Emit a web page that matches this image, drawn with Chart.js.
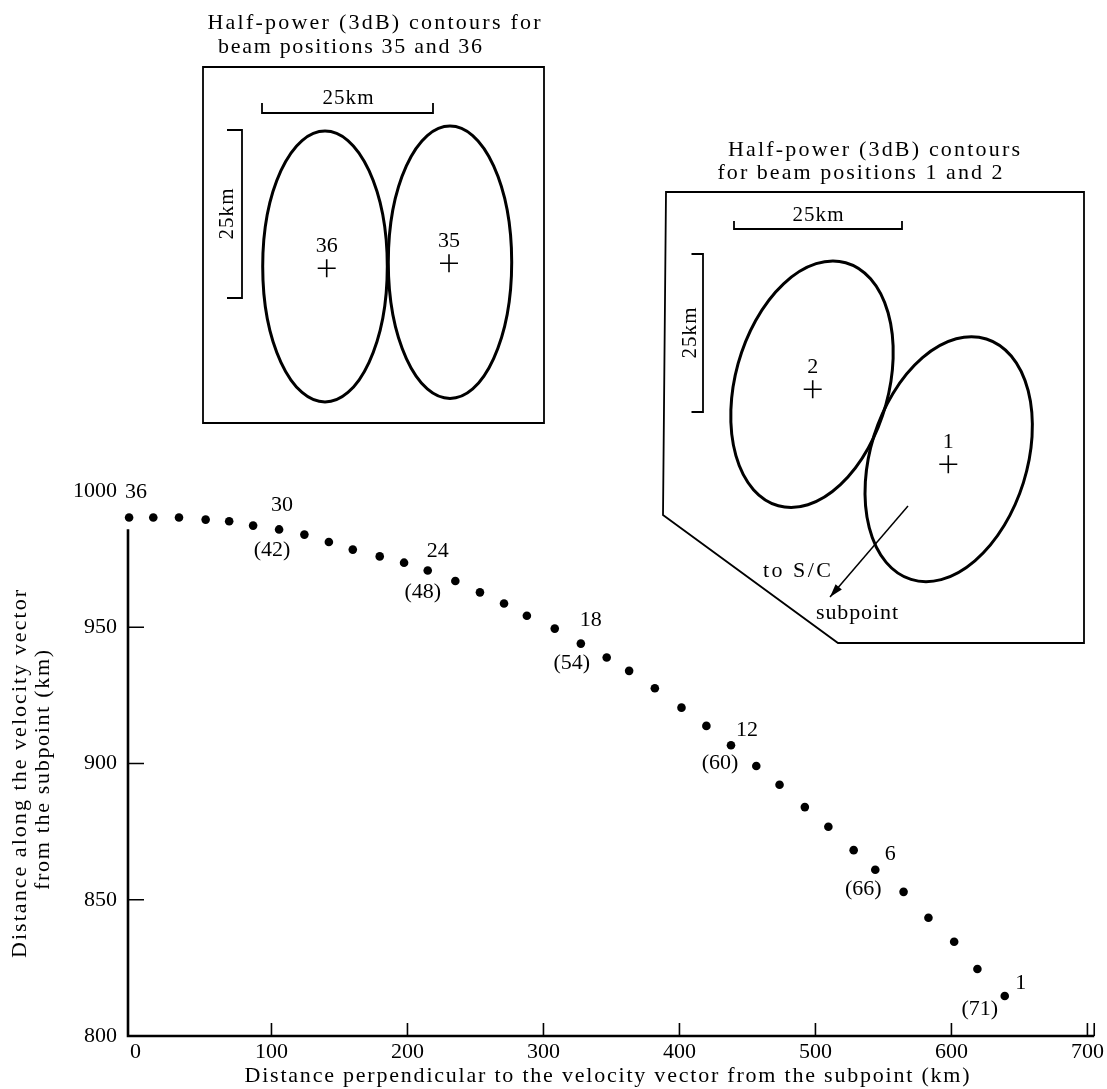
<!DOCTYPE html>
<html>
<head>
<meta charset="utf-8">
<title>Beam positions</title>
<script src="https://cdn.jsdelivr.net/npm/chart.js@4/dist/chart.umd.min.js"></script>
<style>
  html, body { margin: 0; padding: 0; background: #fff; }
  #wrap { position: relative; width: 1107px; height: 1089px; }
</style>
</head>
<body>
<div id="wrap"><canvas id="grafico"></canvas></div>
<script>
// posiciones de haz, de 36 (izquierda) a 1 (derecha)
const beamNumbers = [36, 35, 34, 33, 32, 31, 30, 29, 28, 27, 26, 25, 24, 23, 22, 21, 20, 19,
                     18, 17, 16, 15, 14, 13, 12, 11, 10, 9, 8, 7, 6, 5, 4, 3, 2, 1]
// distancia perpendicular al vector velocidad (km)
const distPerp = [-4.7, 13.1, 32.0, 51.6, 68.9, 86.5, 105.6, 124.2, 142.2, 159.8, 179.6, 197.5,
                  214.9, 235.2, 253.3, 271.0, 287.8, 308.3, 327.5, 346.5, 363.0, 381.9, 401.5, 419.8,
                  437.9, 456.5, 473.6, 492.2, 509.5, 528.1, 544.0, 564.8, 583.1, 602.0, 619.1, 639.2]
// distancia a lo largo del vector velocidad (km)
const distAlong = [990.3, 990.3, 990.3, 989.5, 988.9, 987.3, 985.9, 984.0, 981.3, 978.5, 976.0, 973.7,
                   970.8, 967.0, 962.8, 958.7, 954.2, 949.5, 944.0, 938.9, 934.0, 927.6, 920.5, 913.8,
                   906.7, 899.1, 892.2, 884.0, 876.8, 868.2, 861.0, 852.9, 843.4, 834.6, 824.6, 814.7]
// haces rotulados y su numero emparejado entre parentesis
const labeledBeams = [36, 30, 24, 18, 12, 6, 1]
const pairedBeams = [null, 42, 48, 54, 60, 66, 71]

const xTicks = [0, 100, 200, 300, 400, 500, 600, 700]
const yTicks = [800, 850, 900, 950, 1000]
const xAxisEnd = 705
const yAxisLineTop = 986

const xTitle = 'Distance perpendicular to the velocity vector from the subpoint (km)'
const yTitle = ['Distance along the velocity vector', 'from the subpoint (km)']

const fuente = "'Liberation Serif', 'DejaVu Serif', serif"
Chart.defaults.font.family = fuente
Chart.defaults.color = '#000'

// desplazamientos de los rotulos respecto al punto (px)
const offNum = { 36: [7, -25], 30: [3, -24], 24: [10, -19], 18: [10, -23], 12: [16, -15], 6: [15, -16], 1: [16, -13] }
const offPar = { 30: [-7, 21], 24: [-5, 22], 18: [-9, 20], 12: [-11, 18], 6: [-12, 19], 1: [-25, 13] }

// recuadros con los contornos de media potencia
const recuadros = [
    {
        titles: [
            { text: 'Half-power (3dB) contours for', cx: 374, cy: 23, w: 333 },
            { text: 'beam positions 35 and 36', cx: 350, cy: 47, w: 264 }
        ],
        box: [[203, 67], [544, 67], [544, 423], [203, 423]],
        hBar: { x1: 262, x2: 433, y: 113, tick: 10, lx: 348, ly: 98 },
        vBar: { x: 242, y1: 130, y2: 298, tick: 15, lx: 227, ly: 214 },
        ellipses: [
            { cx: 325, cy: 266.5, rx: 62.3, ry: 135.5, rot: 0 },
            { cx: 450, cy: 262.2, rx: 61.7, ry: 136.2, rot: 0 }
        ],
        crosses: [
            { x: 326.7, y: 268.3, label: '36', ly: 246 },
            { x: 449, y: 263.3, label: '35', ly: 241.5 }
        ]
    },
    {
        titles: [
            { text: 'Half-power (3dB) contours', cx: 874, cy: 150, w: 292 },
            { text: 'for beam positions 1 and 2', cx: 860, cy: 173, w: 285 }
        ],
        box: [[666, 192], [1084, 192], [1084, 643], [838, 643], [663, 515]],
        hBar: { x1: 734, x2: 902, y: 229, tick: 8, lx: 818, ly: 215 },
        vBar: { x: 703, y1: 254, y2: 412, tick: 11.5, lx: 690, ly: 333 },
        ellipses: [
            { cx: 812, cy: 384.2, rx: 76.7, ry: 126.1, rot: 15.5 },
            { cx: 948.7, cy: 459.2, rx: 78.3, ry: 126, rot: 17.4 }
        ],
        crosses: [
            { x: 812.7, y: 389.3, label: '2', ly: 367 },
            { x: 948.3, y: 464.3, label: '1', ly: 442.5 }
        ],
        arrow: { x1: 908, y1: 506, x2: 830, y2: 597 },
        notes: [
            { text: 'to S/C', cx: 797, cy: 571, w: 68 },
            { text: 'subpoint', cx: 857, cy: 613, w: 82 }
        ]
    }
]

function textoEspaciado(ctx, text, cx, cy, width, angle) {
    ctx.save()
    ctx.translate(cx, cy)
    if (angle) ctx.rotate(angle)
    ctx.letterSpacing = '0px'
    const w0 = ctx.measureText(text).width
    const sp = (width - w0) / (text.length - 1)
    ctx.letterSpacing = sp + 'px'
    ctx.textAlign = 'left'
    ctx.textBaseline = 'middle'
    ctx.fillText(text, -width / 2, 0)
    ctx.restore()
}

function dibujarRecuadro(ctx, r) {
    ctx.save()
    ctx.strokeStyle = '#000'
    ctx.fillStyle = '#000'
    ctx.font = '22px ' + fuente
    r.titles.forEach(t => textoEspaciado(ctx, t.text, t.cx, t.cy, t.w))

    ctx.lineWidth = 1.8
    ctx.beginPath()
    r.box.forEach((p, i) => i ? ctx.lineTo(p[0], p[1]) : ctx.moveTo(p[0], p[1]))
    ctx.closePath()
    ctx.stroke()

    // barras de escala
    const h = r.hBar, v = r.vBar
    ctx.lineWidth = 1.8
    ctx.beginPath()
    ctx.moveTo(h.x1, h.y - h.tick); ctx.lineTo(h.x1, h.y); ctx.lineTo(h.x2, h.y); ctx.lineTo(h.x2, h.y - h.tick)
    ctx.moveTo(v.x - v.tick, v.y1); ctx.lineTo(v.x, v.y1); ctx.lineTo(v.x, v.y2); ctx.lineTo(v.x - v.tick, v.y2)
    ctx.stroke()
    ctx.font = '21px ' + fuente
    textoEspaciado(ctx, '25km', h.lx, h.ly, 51)
    textoEspaciado(ctx, '25km', v.lx, v.ly, 51, -Math.PI / 2)

    ctx.lineWidth = 3
    r.ellipses.forEach(e => {
        ctx.beginPath()
        ctx.ellipse(e.cx, e.cy, e.rx, e.ry, e.rot * Math.PI / 180, 0, Math.PI * 2)
        ctx.stroke()
    })

    ctx.lineWidth = 1.6
    ctx.font = '22px ' + fuente
    ctx.textAlign = 'center'
    ctx.textBaseline = 'middle'
    r.crosses.forEach(c => {
        ctx.beginPath()
        ctx.moveTo(c.x - 9, c.y); ctx.lineTo(c.x + 9, c.y)
        ctx.moveTo(c.x, c.y - 9); ctx.lineTo(c.x, c.y + 9)
        ctx.stroke()
        ctx.fillText(c.label, c.x, c.ly)
    })

    if (r.arrow) {
        const a = r.arrow
        const ang = Math.atan2(a.y2 - a.y1, a.x2 - a.x1)
        ctx.lineWidth = 1.5
        ctx.beginPath()
        ctx.moveTo(a.x1, a.y1); ctx.lineTo(a.x2, a.y2)
        ctx.stroke()
        ctx.beginPath()
        ctx.moveTo(a.x2, a.y2)
        ctx.lineTo(a.x2 - 14 * Math.cos(ang - 0.3), a.y2 - 14 * Math.sin(ang - 0.3))
        ctx.lineTo(a.x2 - 14 * Math.cos(ang + 0.3), a.y2 - 14 * Math.sin(ang + 0.3))
        ctx.closePath()
        ctx.fill()
    }
    ctx.font = '22px ' + fuente
    if (r.notes) r.notes.forEach(t => textoEspaciado(ctx, t.text, t.cx, t.cy, t.w))
    ctx.restore()
}

const dibujo = {
    id: 'dibujo',
    afterDraw(chart) {
        const ctx = chart.ctx
        const xs = chart.scales.x, ys = chart.scales.y
        const x0 = xs.getPixelForValue(xs.min)
        const y0 = ys.getPixelForValue(ys.min)
        ctx.save()
        ctx.strokeStyle = '#000'
        ctx.fillStyle = '#000'

        // ejes
        ctx.lineWidth = 2.6
        ctx.beginPath()
        ctx.moveTo(x0, ys.getPixelForValue(yAxisLineTop))
        ctx.lineTo(x0, y0)
        ctx.lineTo(xs.getPixelForValue(xAxisEnd), y0)
        ctx.stroke()
        ctx.lineWidth = 1.6
        ctx.beginPath()
        xTicks.filter(v => v > 0).concat([xAxisEnd]).forEach(v => {
            const px = xs.getPixelForValue(v)
            ctx.moveTo(px, y0); ctx.lineTo(px, y0 - 13)
        })
        yTicks.filter(v => v > 800 && v < yAxisLineTop).forEach(v => {
            const py = ys.getPixelForValue(v)
            ctx.moveTo(x0, py); ctx.lineTo(x0 + 16, py)
        })
        ctx.stroke()

        // rotulos de los haces
        ctx.font = '22px ' + fuente
        ctx.textAlign = 'center'
        ctx.textBaseline = 'middle'
        labeledBeams.forEach((b, k) => {
            const i = beamNumbers.indexOf(b)
            const px = xs.getPixelForValue(distPerp[i])
            const py = ys.getPixelForValue(distAlong[i])
            ctx.fillText(String(b), px + offNum[b][0], py + offNum[b][1])
            if (pairedBeams[k] !== null) {
                ctx.fillText('(' + pairedBeams[k] + ')', px + offPar[b][0], py + offPar[b][1])
            }
        })

        // titulos de los ejes
        ctx.font = '22px ' + fuente
        textoEspaciado(ctx, xTitle, 607, 1076, 725)
        textoEspaciado(ctx, yTitle[0], 20, 774, 368, -Math.PI / 2)
        textoEspaciado(ctx, yTitle[1], 43, 770, 240, -Math.PI / 2)

        recuadros.forEach(r => dibujarRecuadro(ctx, r))
        ctx.restore()
    }
}

const grafico = document.querySelector('#grafico')
const config = {
    type: 'scatter',
    data: {
        datasets: [{
            label: 'Beam positions',
            data: distPerp.map((x, i) => ({ x: x, y: distAlong[i] })),
            backgroundColor: '#000',
            borderWidth: 0,
            pointRadius: 4.3,
            pointHoverRadius: 4.3,
            clip: false
        }]
    },
    options: {
        responsive: true,
        maintainAspectRatio: false,
        animation: false,
        layout: { padding: { top: 491, right: 10, left: 0, bottom: 0 } },
        plugins: { legend: { display: false }, tooltip: { enabled: false } },
        scales: {
            x: {
                type: 'linear',
                min: -5.5,
                max: xAxisEnd,
                afterBuildTicks: s => { s.ticks = xTicks.map(v => ({ value: v })) },
                afterFit: s => { s.height = 53 },
                grid: { display: false, drawTicks: false },
                border: { display: false },
                ticks: { font: { size: 22 }, padding: 3, color: '#000', maxRotation: 0, callback: v => String(v) }
            },
            y: {
                type: 'linear',
                min: 800,
                max: 1000,
                afterBuildTicks: s => { s.ticks = yTicks.map(v => ({ value: v })) },
                afterFit: s => { s.width = 128 },
                grid: { display: false, drawTicks: false },
                border: { display: false },
                ticks: { font: { size: 22 }, padding: 11, color: '#000', callback: v => String(v) }
            }
        }
    },
    plugins: [dibujo]
}
new Chart(grafico, config)
</script>
</body>
</html>
